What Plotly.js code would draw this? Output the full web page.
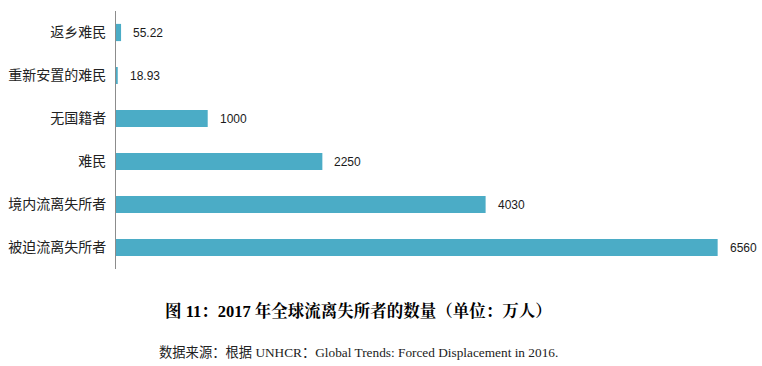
<!DOCTYPE html>
<html>
<head>
<meta charset="utf-8">
<script src="https://cdn.plot.ly/plotly-3.0.1.min.js"></script>
<style>html,body{margin:0;padding:0;background:#fff;}#chart{width:762px;height:366px;}</style>
</head>
<body>
<div id="chart"></div>
<script>
const categories = ["返乡难民", "重新安置的难民", "无国籍者", "难民", "境内流离失所者", "被迫流离失所者"];
const values = [55.22, 18.93, 1000, 2250, 4030, 6560];
const valueLabels = ["55.22", "18.93", "1000", "2250", "4030", "6560"];
const titleText = "图 11：2017 年全球流离失所者的数量（单位：万人）";
const sourceText = "数据来源：根据 UNHCR：Global Trends: Forced Displacement in 2016.";

const trace = {
  type: "bar",
  orientation: "h",
  y: categories,
  x: values,
  marker: {color: "#4BACC6"},
  width: 0.4,
  hoverinfo: "none"
};

const annotations = values.map((v, i) => ({
  x: v, y: categories[i], xref: "x", yref: "y",
  text: valueLabels[i], showarrow: false,
  xanchor: "left", xshift: 10,
  font: {family: "Liberation Sans, Noto Sans, sans-serif", size: 12, color: "#1a1a1a"}
}));
annotations.push({
  xref: "paper", yref: "paper", x: 0.0732, y: -0.163, xanchor: "left", yanchor: "middle",
  text: "<b>" + titleText + "</b>", showarrow: false,
  font: {family: "Liberation Serif, Noto Serif CJK SC, Noto Sans CJK SC, serif", size: 16.5, color: "#000"}
});
annotations.push({
  xref: "paper", yref: "paper", x: 0.0639, y: -0.322, xanchor: "left", yanchor: "middle",
  text: sourceText, showarrow: false,
  font: {family: "Liberation Serif, Noto Sans CJK SC, serif", size: 13.3, color: "#222"}
});

const layout = {
  width: 762, height: 366,
  margin: {l: 116, r: 4, t: 11, b: 97},
  paper_bgcolor: "#fff", plot_bgcolor: "#fff",
  showlegend: false,
  xaxis: {range: [0, 7000], visible: false, fixedrange: true},
  yaxis: {
    type: "category", range: [5.5, -0.5],
    showline: true, linecolor: "#8c8c8c", linewidth: 1,
    showgrid: false, zeroline: false, ticks: "",
    ticklabelstandoff: 6,
    tickfont: {family: "Noto Sans CJK SC, sans-serif", size: 14, color: "#222"}
  },
  annotations: annotations
};

Plotly.newPlot("chart", [trace], layout, {displayModeBar: false, staticPlot: true});
</script>
</body>
</html>
